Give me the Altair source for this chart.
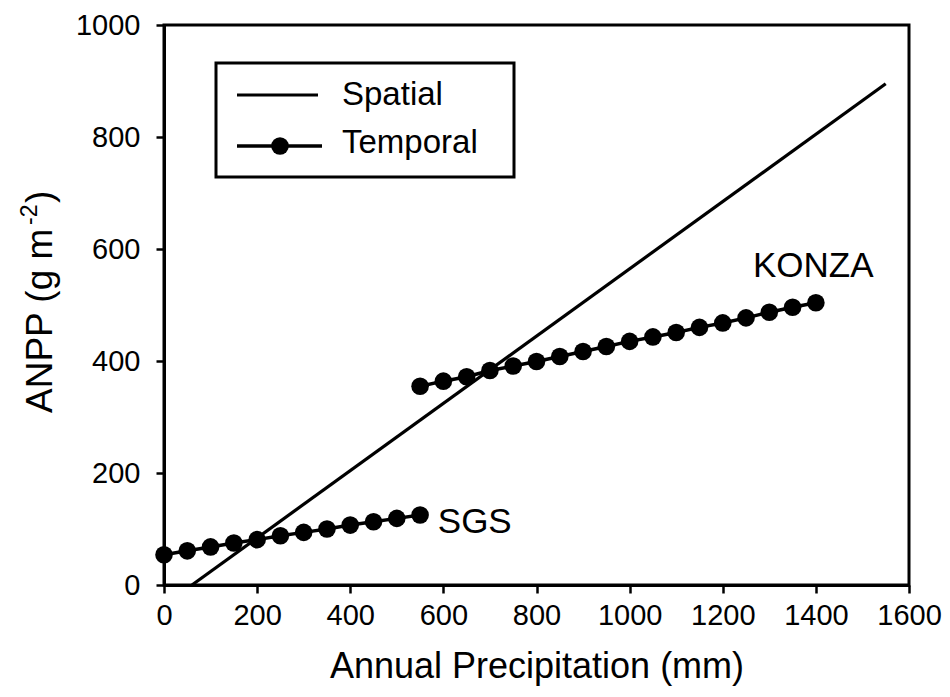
import altair as alt
import pandas as pd

# ---- data ----
spatial_precip = [60, 1550]
spatial_anpp = [0, 895]

sgs_precip = [0, 50, 100, 150, 200, 250, 300, 350, 400, 450, 500, 550]
sgs_anpp = [54, 61, 68, 75, 81, 88, 94, 100, 107, 113, 119, 125]

konza_precip = [550, 600, 650, 700, 750, 800, 850, 900, 950, 1000,
                1050, 1100, 1150, 1200, 1250, 1300, 1350, 1400]
konza_anpp = [355, 364, 372, 383, 391, 399, 408, 417, 426, 435,
              443, 451, 460, 468, 477, 487, 496, 504]

site_labels = ["KONZA", "SGS"]
site_label_x = [1265, 588]
site_label_y = [550, 93]

x_ticks = [0, 200, 400, 600, 800, 1000, 1200, 1400, 1600]
y_ticks = [0, 200, 400, 600, 800, 1000]

FONT = "Liberation Sans"

spatial_df = pd.DataFrame({"P": spatial_precip, "ANPP": spatial_anpp})
temporal_df = pd.DataFrame({
    "P": sgs_precip + konza_precip,
    "ANPP": sgs_anpp + konza_anpp,
    "site": ["SGS"] * len(sgs_precip) + ["KONZA"] * len(konza_precip),
})
label_df = pd.DataFrame({"P": site_label_x, "ANPP": site_label_y, "t": site_labels})
one = pd.DataFrame({"a": [0]})

xscale = alt.Scale(domain=[0, 1600], nice=False, zero=False)
yscale = alt.Scale(domain=[0, 1000], nice=False, zero=False)

axis_common = dict(labelFontSize=29, labelFont=FONT, labelColor="black",
                   labelOverlap=False, labelFlush=False, format="d",
                   domainColor="black", domainWidth=3, tickColor="black",
                   tickWidth=2.5, tickSize=8, grid=False)

xenc = alt.X("P:Q", scale=xscale,
             axis=alt.Axis(values=x_ticks, title="Annual Precipitation (mm)",
                           labelPadding=8, titlePadding=19,
                           titleFont=FONT, titleFontSize=36, titleFontWeight="normal",
                           titleColor="black", **axis_common))
yenc = alt.Y("ANPP:Q", scale=yscale,
             axis=alt.Axis(values=y_ticks, title=None, labelPadding=16, **axis_common))

spatial = alt.Chart(spatial_df).mark_line(color="black", strokeWidth=3.2).encode(x=xenc, y=yenc)

temporal_line = alt.Chart(temporal_df).mark_line(color="black", strokeWidth=3.5).encode(
    x=xenc, y=yenc, detail="site:N")
temporal_pts = alt.Chart(temporal_df).mark_point(
    filled=True, color="black", size=310, opacity=1, shape="circle").encode(x=xenc, y=yenc)

site_text = alt.Chart(label_df).mark_text(
    align="left", baseline="alphabetic", font=FONT, fontSize=35, color="black").encode(
    x=xenc, y=yenc, text="t:N")

# ---- y-axis title with superscript ----
ytitle_main = alt.Chart(one).mark_text(
    text="ANPP (g m", angle=270, align="left", baseline="alphabetic",
    font=FONT, fontSize=37, color="black").encode(x=alt.value(-112), y=alt.value(388))
ytitle_sup = alt.Chart(one).mark_text(
    text="-2", angle=270, align="left", baseline="alphabetic",
    font=FONT, fontSize=23, color="black").encode(x=alt.value(-127), y=alt.value(200))
ytitle_close = alt.Chart(one).mark_text(
    text=")", angle=270, align="left", baseline="alphabetic",
    font=FONT, fontSize=37, color="black").encode(x=alt.value(-112), y=alt.value(178))

# ---- manual legend ----
leg_box = alt.Chart(one).mark_rect(fill="white", stroke="black", strokeWidth=3).encode(
    x=alt.value(52), x2=alt.value(350), y=alt.value(38), y2=alt.value(152))
leg_spatial = alt.Chart(one).mark_rule(color="black", strokeWidth=3).encode(
    x=alt.value(73), x2=alt.value(154), y=alt.value(70))
leg_temporal = alt.Chart(one).mark_rule(color="black", strokeWidth=3.5).encode(
    x=alt.value(73), x2=alt.value(158), y=alt.value(121))
leg_marker = alt.Chart(one).mark_point(filled=True, color="black", size=310, opacity=1).encode(
    x=alt.value(116), y=alt.value(121))
leg_t1 = alt.Chart(one).mark_text(text="Spatial", align="left", baseline="alphabetic",
                                  font=FONT, fontSize=33, color="black").encode(
    x=alt.value(178), y=alt.value(80))
leg_t2 = alt.Chart(one).mark_text(text="Temporal", align="left", baseline="alphabetic",
                                  font=FONT, fontSize=33, color="black").encode(
    x=alt.value(178), y=alt.value(128))

chart = alt.layer(
    spatial, temporal_line, temporal_pts, site_text,
    ytitle_main, ytitle_sup, ytitle_close,
    leg_box, leg_spatial, leg_temporal, leg_marker, leg_t1, leg_t2,
).properties(
    width=745, height=560,
    autosize=alt.AutoSizeParams(type="none"),
    padding={"left": 164, "top": 25, "right": 41, "bottom": 112},
    background="white",
).configure_view(
    stroke="black", strokeWidth=3,
)

chart.save("out.html", embed_options={"renderer": "svg", "actions": False})
